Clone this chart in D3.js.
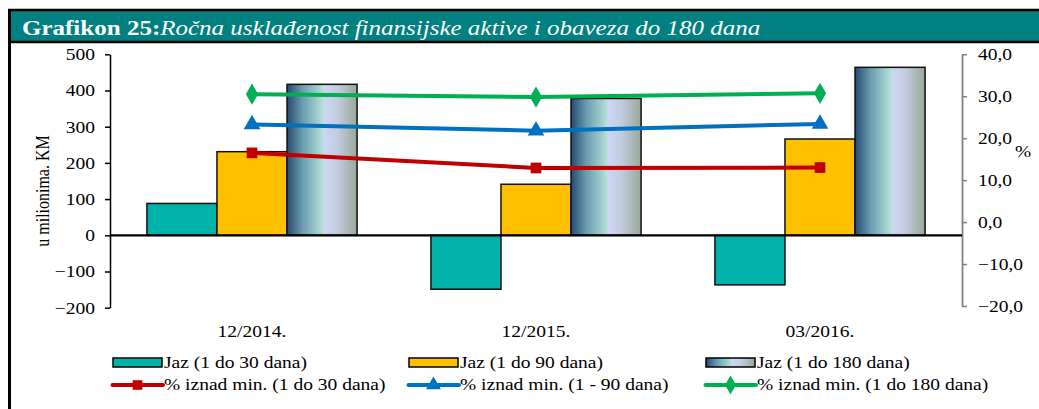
<!DOCTYPE html>
<html><head><meta charset="utf-8">
<script src="https://cdn.jsdelivr.net/npm/d3@7"></script>
<style>body{margin:0;background:#fff}svg{display:block}</style>
</head><body>
<script>
const categories = ["12/2014.", "12/2015.", "03/2016."];
const jaz30 = [88, -149, -137];
const jaz90 = [231, 141, 266];
const jaz180 = [417, 378, 464];
const pct30 = [16.5, 12.9, 13.0];
const pct90 = [23.3, 21.8, 23.4];
const pct180 = [30.5, 29.8, 30.7];
const leftTicks = [-200, -100, 0, 100, 200, 300, 400, 500];
const rightTicks = [-20, -10, 0, 10, 20, 30, 40];

const W = 1039, H = 409;
const SX = 1.22; // horizontal stretch of the reference text
const FONT = "Liberation Serif";
const fs = 16;
const svg = d3.select("body").append("svg").attr("width", W).attr("height", H)
  .attr("font-family", FONT);
const defs = svg.append("defs");
const grad = defs.append("linearGradient").attr("id", "g180").attr("x1", "0%").attr("x2", "100%").attr("y1", "0%").attr("y2", "0%");
[[0, "#244a72"], [0.22, "#6a9caf"], [0.45, "#a3d0d0"], [0.53, "#bfe3dc"], [0.535, "#ccd6f3"], [0.72, "#c3cbe0"], [1, "#97a996"]]
  .forEach(([o, c]) => grad.append("stop").attr("offset", o).attr("stop-color", c));

function addText(x, y, str, anchor, size, extra) {
  const g = svg.append("g").attr("transform", `translate(${x},${y}) scale(${SX},1)` + (extra || ""));
  return g.append("text").attr("x", 0).attr("y", 0).attr("text-anchor", anchor || "start")
    .attr("font-size", size || fs).attr("font-family", FONT).attr("fill", "#000").text(str);
}

// frame & title
svg.append("rect").attr("x", 8).attr("y", 10).attr("width", W - 8).attr("height", 32).attr("fill", "#008080");
svg.append("line").attr("x1", 8).attr("x2", W).attr("y1", 10).attr("y2", 10).attr("stroke", "#000").attr("stroke-width", 2.5);
svg.append("line").attr("x1", 8).attr("x2", W).attr("y1", 42).attr("y2", 42).attr("stroke", "#000").attr("stroke-width", 2.5);
svg.append("line").attr("x1", 9.5).attr("x2", 9.5).attr("y1", 9).attr("y2", H).attr("stroke", "#000").attr("stroke-width", 3);
const title = addText(22, 34.5, null, "start", 20.5).attr("fill", "#fff");
title.append("tspan").attr("font-weight", "bold").text("Grafikon 25:");
title.append("tspan").attr("font-style", "italic").text("Ročna usklađenost finansijske aktive i obaveza do 180 dana");

const x = d3.scaleBand().domain(categories).range([110, 962]).paddingInner(0.26).paddingOuter(0.13);
const barKeys = ["j30", "j90", "j180"];
const xi = d3.scaleBand().domain(barKeys).range([0, x.bandwidth()]);
const yL = d3.scaleLinear().domain([-200, 500]).range([307.7, 54.3]);
const yR = d3.scaleLinear().domain([-20, 40]).range([306, 54.3]);

// left axis
const gL = svg.append("g").attr("transform", "translate(110,0)")
  .call(d3.axisLeft(yL).tickValues(leftTicks).tickSize(5).tickSizeOuter(0));
gL.select(".domain").attr("stroke", "#000").attr("stroke-width", 1.5);
gL.selectAll(".tick line").attr("stroke", "#000").attr("stroke-width", 1.5);
gL.selectAll(".tick text").attr("font-size", fs).attr("fill", "#000").attr("font-family", FONT)
  .attr("x", -15 / SX).attr("dy", "0.34em").attr("transform", `scale(${SX},1)`);
// right axis
const gR = svg.append("g").attr("transform", "translate(962,0)")
  .call(d3.axisRight(yR).tickValues(rightTicks).tickSize(5).tickSizeOuter(0)
    .tickFormat(d => d3.format(".1f")(d).replace(".", ",")));
gR.select(".domain").attr("stroke", "#808080").attr("stroke-width", 1.8);
gR.selectAll(".tick line").attr("stroke", "#808080").attr("stroke-width", 1.5);
gR.selectAll(".tick text").attr("font-size", fs).attr("fill", "#000").attr("font-family", FONT)
  .attr("x", 16 / SX).attr("dy", "0.34em").attr("transform", `scale(${SX},1)`);

addText(49, 191, "u milionima. KM", "middle", fs, " rotate(-90)");
addText(1023, 157, "%", "middle", fs);

// bars
const barSeries = [
  { key: "j30", vals: jaz30, fill: "#00B2A9" },
  { key: "j90", vals: jaz90, fill: "#FFC000" },
  { key: "j180", vals: jaz180, fill: "url(#g180)" }
];
barSeries.forEach(s => {
  svg.append("g").selectAll("rect").data(categories).join("rect")
    .attr("x", (c) => x(c) + xi(s.key))
    .attr("width", xi.bandwidth())
    .attr("y", (c, i) => yL(Math.max(0, s.vals[i])))
    .attr("height", (c, i) => Math.abs(yL(s.vals[i]) - yL(0)))
    .attr("fill", s.fill).attr("stroke", "#111").attr("stroke-width", 1.5);
});
// zero line
svg.append("line").attr("x1", 110).attr("x2", 962).attr("y1", yL(0)).attr("y2", yL(0)).attr("stroke", "#000").attr("stroke-width", 2.2);

// lines
const cx = c => x(c) + x.bandwidth() / 2;
const lineSeries = [
  { vals: pct30, color: "#C00000", marker: d3.symbolSquare, size: 115, label: "% iznad min. (1 do 30 dana)" },
  { vals: pct90, color: "#0070C0", marker: d3.symbolTriangle, size: 120, label: "% iznad min. (1 - 90 dana)" },
  { vals: pct180, color: "#00B050", marker: d3.symbolDiamond, size: 130, label: "% iznad min. (1 do 180 dana)" }
];
lineSeries.forEach(s => {
  const line = d3.line().x((d, i) => cx(categories[i])).y(d => yR(d));
  svg.append("path").datum(s.vals).attr("d", line).attr("fill", "none").attr("stroke", s.color).attr("stroke-width", 4);
  svg.append("g").selectAll("path").data(s.vals).join("path")
    .attr("transform", (d, i) => `translate(${cx(categories[i])},${yR(d)})`)
    .attr("d", d3.symbol(s.marker, s.size)).attr("fill", s.color);
});

// category labels
categories.forEach(c => addText(cx(c), 337, c, "middle", fs));

// legend
const legX = [113, 409, 706];
const barLabels = ["Jaz (1 do 30 dana)", "Jaz (1 do 90 dana)", "Jaz (1 do 180 dana)"];
barSeries.forEach((s, i) => {
  svg.append("rect").attr("x", legX[i]).attr("y", 358).attr("width", 49).attr("height", 9)
    .attr("fill", s.fill).attr("stroke", "#000").attr("stroke-width", 1.5);
  addText(legX[i] + 51, 368, barLabels[i], "start", fs);
});
lineSeries.forEach((s, i) => {
  const y0 = 385;
  svg.append("line").attr("x1", legX[i] - 0.5).attr("x2", legX[i] + 50).attr("y1", y0).attr("y2", y0)
    .attr("stroke", s.color).attr("stroke-width", 4).attr("stroke-linecap", "round");
  svg.append("path").attr("transform", `translate(${legX[i] + 24.5},${y0})`).attr("d", d3.symbol(s.marker, s.size * 0.8)).attr("fill", s.color);
  addText(legX[i] + 51, 390, s.label, "start", fs);
});
</script>
</body></html>
